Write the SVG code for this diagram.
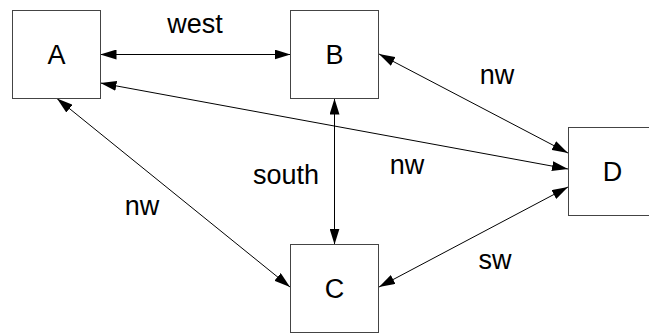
<svg xmlns="http://www.w3.org/2000/svg" width="649" height="333" viewBox="0 0 649 333">
  <style>
    .node rect { fill: #ffffff; stroke: #444444; stroke-width: 1; }
    .node text { font-family: "Liberation Sans", Arial, sans-serif; font-size: 27px; fill: #000000; text-anchor: middle; dominant-baseline: central; }
    .edge { fill: none; stroke: #000000; stroke-width: 1; marker-start: url(#head); marker-end: url(#head); }
    .label { font-family: "Liberation Sans", Arial, sans-serif; font-size: 27px; fill: #000000; text-anchor: middle; }
  </style>
  <defs>
    <marker id="head" markerUnits="userSpaceOnUse" markerWidth="16" markerHeight="10" viewBox="0 0 16 10" refX="16" refY="5" orient="auto-start-reverse">
      <path d="M0,0 L16,5 L0,10 Z" fill="#000000"/>
    </marker>
  </defs>
  <rect width="649" height="333" fill="#ffffff"/>

  <!-- connectors -->
  <g id="edges">
    <line class="edge" x1="100.5" y1="54.5" x2="290.5" y2="54.5"/>
    <line class="edge" x1="334.5" y1="98.5" x2="334.5" y2="244.5"/>
    <line class="edge" x1="100.5" y1="83" x2="568" y2="169"/>
    <line class="edge" x1="379" y1="54" x2="568" y2="153"/>
    <line class="edge" x1="57" y1="98.5" x2="290" y2="287"/>
    <line class="edge" x1="568" y1="187" x2="379" y2="287"/>
    <text class="label" x="195" y="33">west</text>
    <text class="label" x="497" y="84">nw</text>
    <text class="label" x="407" y="174">nw</text>
    <text class="label" x="286" y="184">south</text>
    <text class="label" x="142" y="215">nw</text>
    <text class="label" x="495" y="269">sw</text>
  </g>

  <!-- nodes -->
  <g id="A" class="node">
    <rect x="12.5" y="10.5" width="88" height="88"/>
    <text x="56.5" y="54.5">A</text>
  </g>
  <g id="B" class="node">
    <rect x="290.5" y="10.5" width="88" height="88"/>
    <text x="334.5" y="54.5">B</text>
  </g>
  <g id="C" class="node">
    <rect x="290.5" y="244.5" width="88" height="88"/>
    <text x="334.5" y="288.5">C</text>
  </g>
  <g id="D" class="node">
    <rect x="568.5" y="127.5" width="88" height="88"/>
    <text x="612.5" y="171.5">D</text>
  </g>
</svg>
